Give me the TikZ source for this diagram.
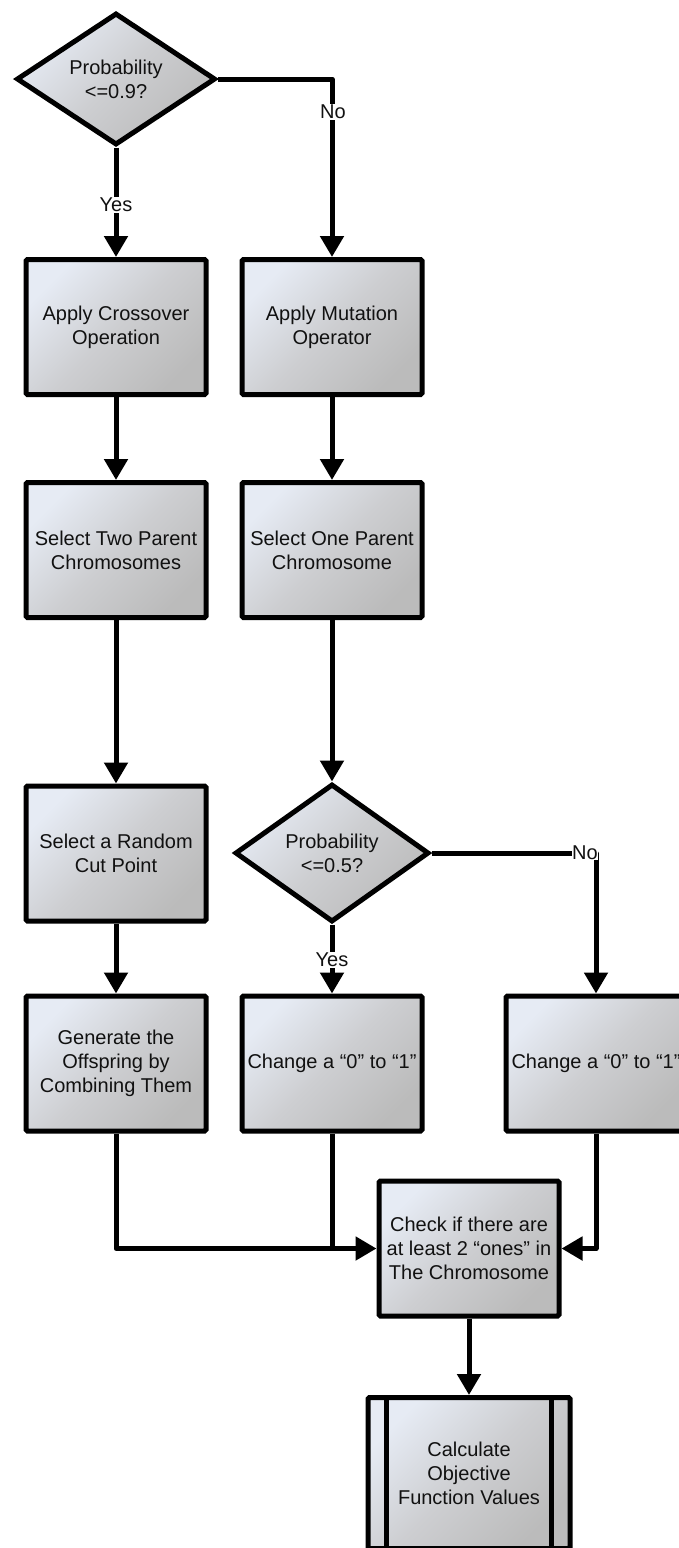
\documentclass[tikz,border=0pt]{standalone}
\usepackage{fontspec}
\setmainfont{Liberation Sans}
\usetikzlibrary{arrows.meta,shapes.geometric}
\definecolor{cUL}{HTML}{E6EBF4}
\definecolor{cMid}{HTML}{CDCED1}
\definecolor{cLR}{HTML}{BBBBBB}
\definecolor{txt}{HTML}{111111}
\begin{document}
\begin{tikzpicture}[x=1pt,y=-1pt,
  boxshade/.style={top color=cUL, bottom color=cLR, middle color=cMid, shading angle=45},
  txtfont/.style={font=\fontsize{20}{24}\selectfont, text=txt},
  procbox/.style={rectangle, draw=black, line width=5pt, rounded corners=1.5pt, boxshade,
    minimum width=180pt, minimum height=135pt, inner sep=0pt, align=center, txtfont},
  decide/.style={diamond, draw=black, line width=5pt, boxshade, inner sep=0pt,
    aspect=1.5, align=center, txtfont},
  conn/.style={line width=5pt, line join=round, -{Triangle[length=21pt,width=23pt]}},
  plainconn/.style={line width=5pt, line join=round},
  lbl/.style={fill=white, inner sep=1pt, txtfont}
]
\path[use as bounding box, clip] (0,0) rectangle (679,1548);

% nodes
\node[decide, minimum width=199pt, minimum height=132pt] (d1) at (116,79) {Probability\\<=0.9?};
\node[procbox] (b1) at (116,327) {Apply Crossover\\Operation};
\node[procbox] (b2) at (332,327) {Apply Mutation\\Operator};
\node[procbox] (b3) at (116,550) {Select Two Parent\\Chromosomes};
\node[procbox] (b4) at (332,550) {Select One Parent\\Chromosome};
\node[procbox] (b5) at (116,853.5) {Select a Random\\Cut Point};
\node[decide, minimum width=194pt, minimum height=138pt] (d2) at (332,853) {Probability\\<=0.5?};
\node[procbox] (b6) at (116,1063.5) {Generate the\\Offspring by\\Combining Them};
\node[procbox] (b7) at (332,1063.5) {Change a “0” to “1”};
\node[procbox] (b8) at (596,1063.5) {Change a “0” to “1”};
\node[procbox] (b9) at (469,1248.5) {Check if there are\\at least 2 “ones” in\\The Chromosome};
\node[procbox, minimum width=202pt, minimum height=151pt] (b10) at (469,1473) {Calculate\\Objective\\Function Values};
\draw[line width=5pt] ([xshift=21pt]b10.north west) -- ([xshift=21pt]b10.south west);
\draw[line width=5pt] ([xshift=-21pt]b10.north east) -- ([xshift=-21pt]b10.south east);

% connectors
\draw[conn] (d1.south) -- (b1.north);
\draw[conn] (d1.east) -| (b2.north);
\draw[conn] (b1.south) -- (b3.north);
\draw[conn] (b2.south) -- (b4.north);
\draw[conn] (b3.south) -- (b5.north);
\draw[conn] (b4.south) -- (d2.north);
\draw[conn] (b5.south) -- (b6.north);
\draw[conn] (d2.south) -- (b7.north);
\draw[conn] (d2.east) -| (b8.north);
\draw[conn] (b6.south) |- (b9.west);
\draw[plainconn] (b7.south) -- (b7.south |- b9.west);
\draw[conn] (b8.south) |- (b9.east);
\draw[conn] (b9.south) -- (b10.north);

% labels
\node[lbl] (yes1) at (116,205) {Yes};
\node[lbl] (no1) at (333,112) {No};
\node[lbl] (yes2) at (332,960) {Yes};
\node[lbl, inner sep=0.5pt] (no2) at (585,853) {No};
\end{tikzpicture}
\end{document}
